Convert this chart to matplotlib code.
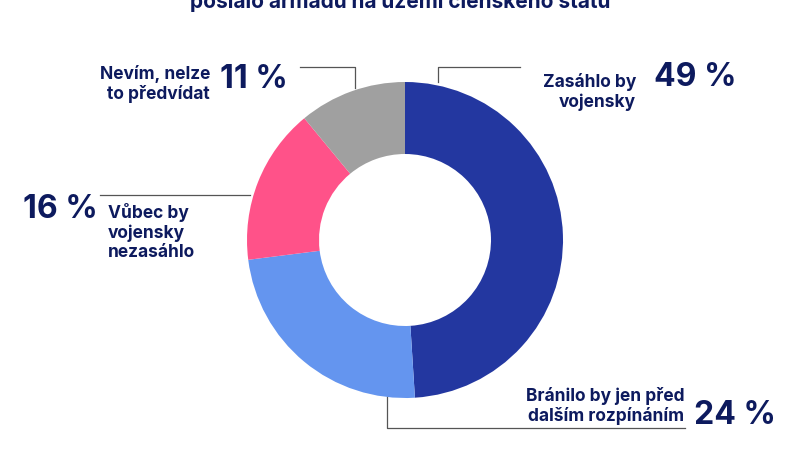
import matplotlib
matplotlib.use("Agg")
from matplotlib import pyplot as plt

labels = ["Zasáhlo by\nvojensky", "Bránilo by jen před\ndalším rozpínáním", "Vůbec by\nvojensky\nnezasáhlo", "Nevím, nelze\nto předvídat"]
values = [49, 24, 16, 11]
colors = ["#2337a0", "#6495ef", "#ff5289", "#a0a0a0"]
navy = "#0d1a5e"
plt.rcParams["font.family"] = ["Inter", "DejaVu Sans"]

H = 449
fig = plt.figure(figsize=[8, 4.49], dpi=100)
ax = fig.add_axes([0, 0, 1, 1])
ax.pie(values, colors=colors, startangle=90, counterclock=False,
       center=(405, H - 240), radius=158, frame=True,
       wedgeprops=dict(width=72, linewidth=0))
ax.set_xlim(0, 800)
ax.set_ylim(0, H)
ax.set_aspect("equal")
ax.axis("off")

ln = dict(color="#555555", lw=0.9)
# leader lines
ax.plot([438, 438, 520], [H - 82, H - 67, H - 67], **ln)
ax.plot([300, 355, 355], [H - 67, H - 67, H - 88], **ln)
ax.plot([100, 250], [H - 195, H - 195], **ln)
ax.plot([387, 387, 685], [H - 397, H - 428, H - 428], **ln)

lab = dict(color=navy, fontsize=12.5, fontweight="bold", linespacing=1.2)
pct = dict(color=navy, fontsize=23, fontweight="bold")
ax.text(636, H - 92, labels[0], ha="right", va="center", **lab)
ax.text(654, H - 77, "%d %%" % values[0], ha="left", va="center", **pct)
ax.text(684, H - 406, labels[1], ha="right", va="center", **lab)
ax.text(694, H - 416, "%d %%" % values[1], ha="left", va="center", **pct)
ax.text(108, H - 232, labels[2], ha="left", va="center", **lab)
ax.text(98, H - 210, "%d %%" % values[2], ha="right", va="center", **pct)
ax.text(210, H - 84, labels[3], ha="right", va="center", **lab)
ax.text(220, H - 79, "%d %%" % values[3], ha="left", va="center", **pct)

ax.text(400, H - 2, "poslalo armádu na území členského státu", ha="center", va="center",
        color=navy, fontsize=15, fontweight="bold")

fig.savefig("out.png", dpi=100, facecolor="white")
